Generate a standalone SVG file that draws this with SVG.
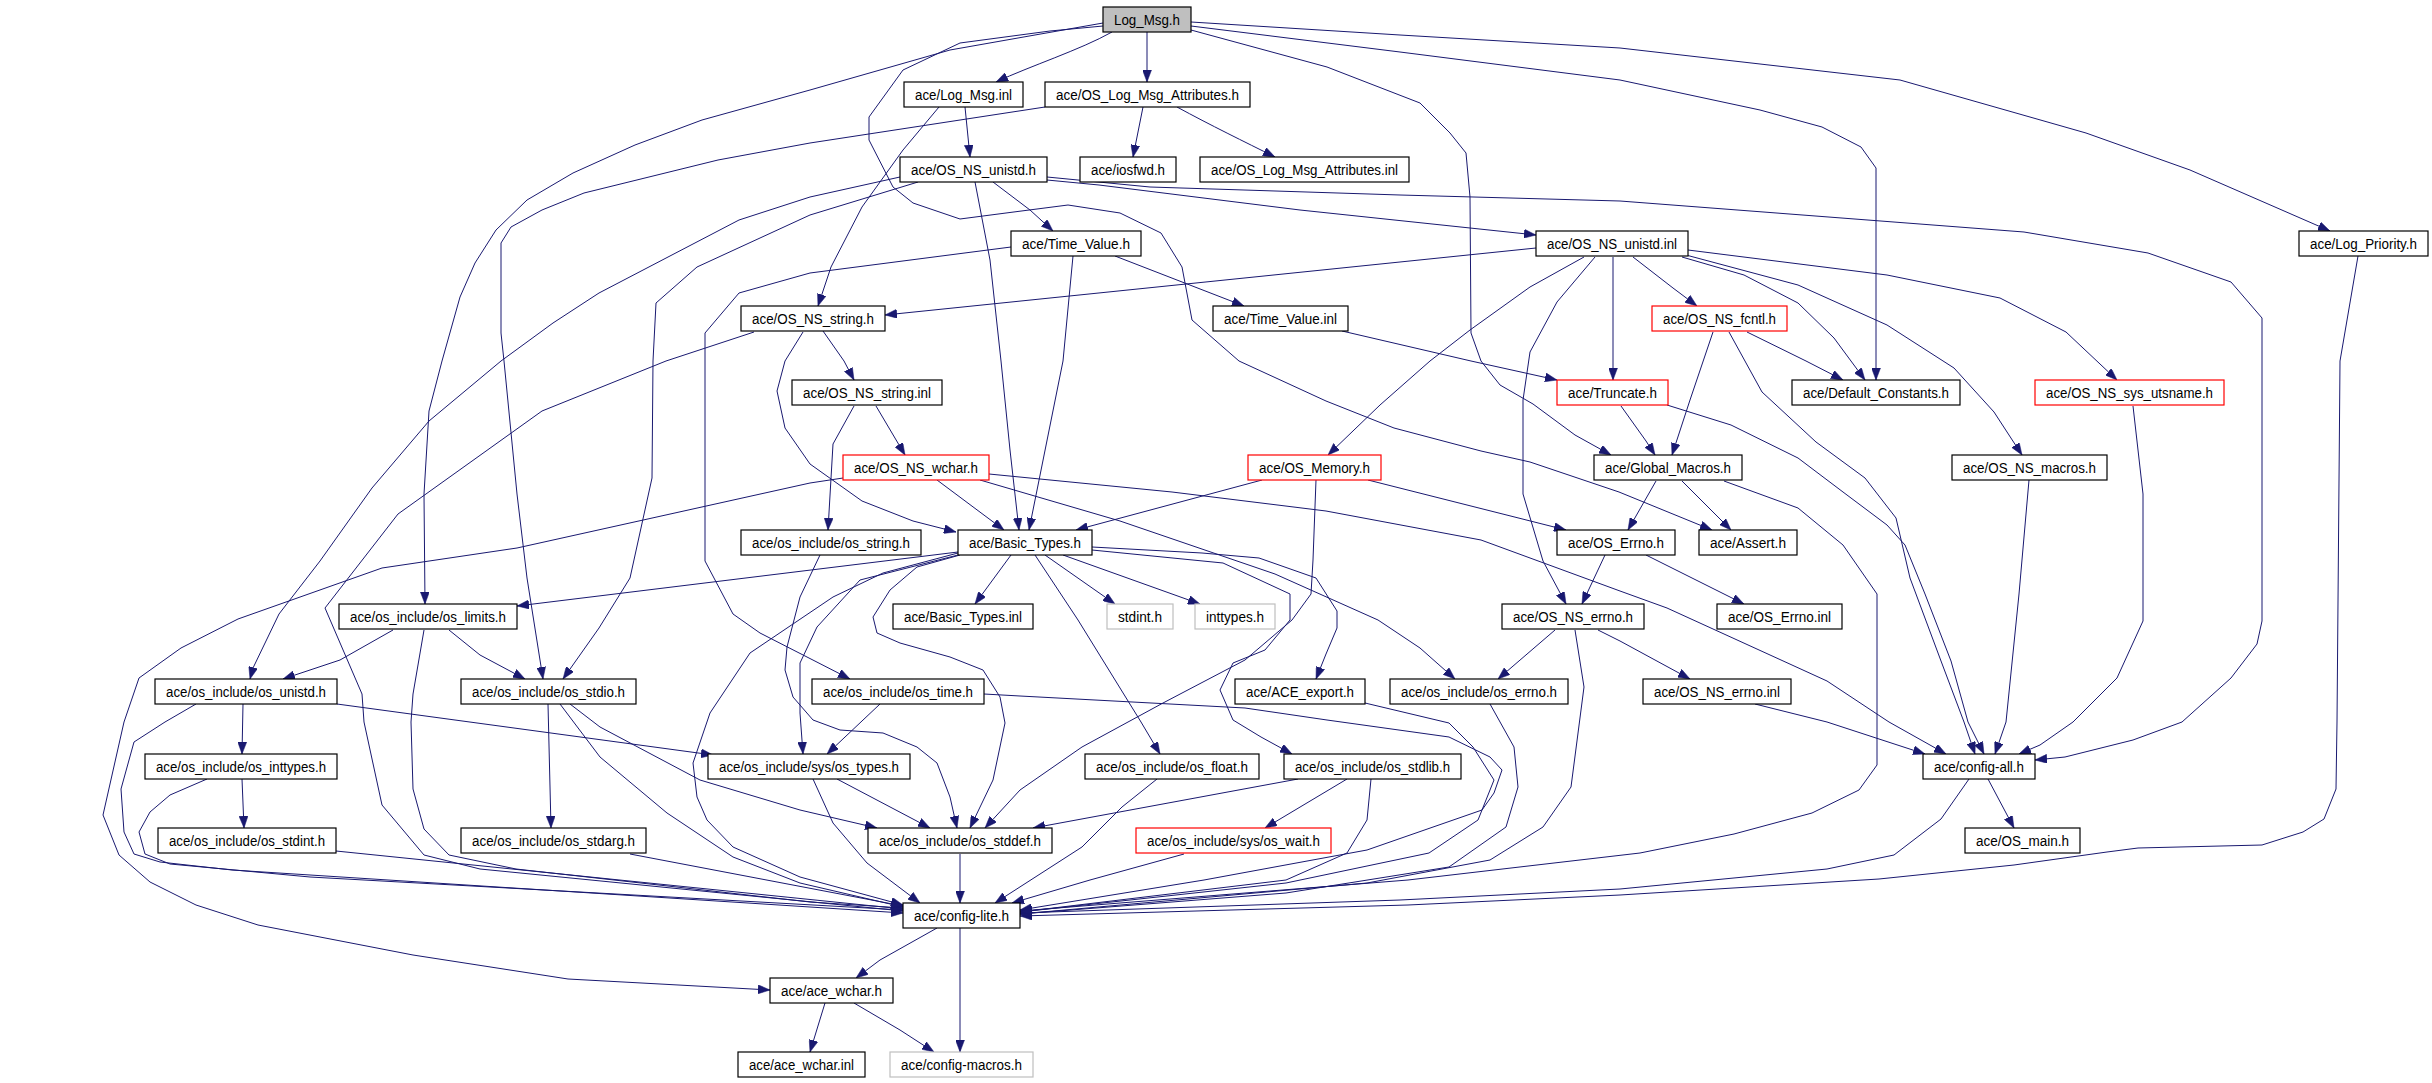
<svg xmlns="http://www.w3.org/2000/svg" width="2432" height="1083" viewBox="0 0 2432 1083">
<style>
.n rect{fill:#fff;stroke:#000;stroke-width:1.2}
.n.red rect{stroke:#ff0000}
.n.grey rect{stroke:#bfbfbf}
.n.root rect{fill:#bfbfbf}
.n text{font-family:"Liberation Sans",Arial,sans-serif;font-size:14px;fill:#000;text-anchor:middle}
#edges path{fill:none;stroke:#191970;stroke-width:1;stroke-linejoin:round;marker-end:url(#a)}
</style>
<defs>
<marker id="a" markerUnits="userSpaceOnUse" markerWidth="12" markerHeight="9" viewBox="0 0 12 9" refX="12" refY="4.5" orient="auto">
<path d="M0,0 L12,4.5 L0,9 z" fill="#191970" stroke="#191970" stroke-width="0.5"/>
</marker>
</defs>
<rect width="2432" height="1083" fill="#fff"/>
<g id="edges">
<path d="M1112,32 C1080,50 1030,66 996,82"/>
<path d="M1147,32 L1147,82"/>
<path d="M1103,23 L950,50 L810,90 L702,120 L635,145 L573,173 L527,200 L496,230 L475,263 L460,297 L442,361 L429,411 L424,494 L425,604"/>
<path d="M1103,26 L1050,31 L960,43 L903,70 L869,117 L869,140 L893,187 L913,203 L960,219 L1006,213 L1068,205 L1120,213 L1161,233 L1182,267 L1192,320 L1239,361 L1326,401 L1394,428 L1481,451 L1530,462 L1619,492 L1712,530"/>
<path d="M1191,26 L1400,52 L1620,80 L1760,110 L1822,127 L1861,147 L1876,168 L1876,380"/>
<path d="M1191,22 L1400,35 L1620,48 L1900,80 L2086,133 L2190,170 L2330,231"/>
<path d="M1191,30 L1327,67 L1420,103 L1450,133 L1466,153 L1470,197 L1471,333 L1481,361 L1500,385 L1533,404 L1575,435 L1611,455"/>
<path d="M965,107 L970,157"/>
<path d="M939,107 L903,150 L862,207 L831,267 L818,306"/>
<path d="M1143,107 L1133,157"/>
<path d="M1177,107 C1210,125 1245,142 1275,157"/>
<path d="M1045,107 L810,143 L718,160 L584,193 L542,210 L511,227 L501,243 L501,333 L504,361 L517,494 L527,578 L543,679"/>
<path d="M993,182 L1030,210 L1053,231"/>
<path d="M1047,180 L1099,185 L1300,210 L1536,235"/>
<path d="M1047,177 L1150,187 L1400,195 L1620,201 L2024,232 L2148,253 L2231,282 L2262,318 L2262,621 L2257,644 L2231,678 L2182,722 L2133,740 L2065,757 L2035,760"/>
<path d="M975,182 L990,260 L1001,361 L1010,450 L1019,530"/>
<path d="M1073,256 L1063,361 L1029,530"/>
<path d="M1115,256 L1244,306"/>
<path d="M1011,247 L810,273 L739,293 L705,333 L705,561 L733,614 L760,633 L807,657 L850,679"/>
<path d="M900,177 L810,197 L739,220 L599,293 L553,323 L501,361 L429,421 L372,488 L320,561 L279,614 L253,668 L250,679"/>
<path d="M918,182 L810,215 L697,267 L656,303 L653,361 L652,478 L630,578 L599,628 L563,679"/>
<path d="M1536,248 L885,315"/>
<path d="M1584,257 L1530,287 L1470,330 L1430,361 L1380,405 L1328,455"/>
<path d="M1595,257 L1557,302 L1530,352 L1523,400 L1523,494 L1543,561 L1566,604"/>
<path d="M1613,257 L1613,380"/>
<path d="M1633,257 L1673,288 L1697,306"/>
<path d="M1682,257 L1744,275 L1798,303 L1834,338 L1865,380"/>
<path d="M1686,255 L1798,285 L1887,325 L1954,368 L1994,412 L2022,455"/>
<path d="M1688,250 L1887,275 L2000,298 L2066,332 L2117,380"/>
<path d="M1713,332 L1690,400 L1672,455"/>
<path d="M1729,332 L1762,392 L1816,442 L1865,478 L1896,518 L1910,578 L1941,661 L1964,722 L1975,754"/>
<path d="M1747,332 L1806,361 L1843,380"/>
<path d="M1342,331 L1471,361 L1557,380"/>
<path d="M1621,406 L1646,441 L1655,455"/>
<path d="M1667,405 L1731,425 L1798,458 L1843,492 L1887,525 L1905,545 L1925,594 L1951,661 L1968,722 L1984,754"/>
<path d="M2133,406 L2143,494 L2143,621 L2117,678 L2073,722 L2040,745 L2019,754"/>
<path d="M2029,480 L2019,594 L2006,722 L1995,754"/>
<path d="M2358,256 L2340,361 L2337,722 L2336,789 L2324,819 L2303,832 L2262,845 L2138,848 L2107,852 L2014,865 L1879,879 L1620,895 L1408,905 L1020,916"/>
<path d="M1969,779 L1941,819 L1894,855 L1827,869 L1620,889 L1400,900 L1020,913"/>
<path d="M1988,779 L2014,828"/>
<path d="M1724,481 L1798,508 L1843,545 L1877,594 L1877,765 L1859,790 L1812,813 L1734,834 L1640,853 L1408,880 L1020,911"/>
<path d="M1656,481 L1628,530"/>
<path d="M1682,481 L1731,530"/>
<path d="M1368,480 L1566,530"/>
<path d="M1262,480 L1076,530"/>
<path d="M1316,480 L1313,560 L1311,594 L1292,620 L1245,660 L1163,703 L1082,747 L1020,790 L985,828"/>
<path d="M1605,555 L1582,604"/>
<path d="M1646,555 L1744,604"/>
<path d="M1555,630 L1498,679"/>
<path d="M1598,630 L1620,641 L1690,679"/>
<path d="M1575,630 L1584,687 L1571,787 L1543,827 L1490,860 L1367,883 L1020,914"/>
<path d="M1755,704 L1827,722 L1925,754"/>
<path d="M989,474 L1172,492 L1326,511 L1481,540 L1620,591 L1667,608 L1724,634 L1827,681 L1889,722 L1946,754"/>
<path d="M980,480 L1120,521 L1275,574 L1378,620 L1420,648 L1455,679"/>
<path d="M937,480 L1004,530"/>
<path d="M843,478 L810,483 L517,548 L382,568 L238,619 L181,648 L139,678 L124,722 L103,815 L119,855 L150,882 L196,905 L258,925 L413,955 L568,979 L770,990"/>
<path d="M876,406 L905,455"/>
<path d="M854,406 L833,444 L828,530"/>
<path d="M823,331 L844,361 L854,380"/>
<path d="M803,332 L785,361 L777,391 L785,428 L810,464 L862,501 L913,521 L956,532"/>
<path d="M754,332 L666,361 L542,411 L398,514 L325,608 L362,694 L364,722 L382,805 L424,855 L480,869 L903,911"/>
<path d="M820,555 L800,597 L787,647 L785,670 L793,697 L813,720 L840,730 L883,733 L917,747 L937,763 L950,797 L957,828"/>
<path d="M958,552 L517,606"/>
<path d="M958,553 L883,573 L833,597 L750,653 L710,713 L693,763 L697,797 L707,820 L733,847 L800,877 L903,905"/>
<path d="M958,555 L860,580 L817,627 L800,663 L800,713 L803,754"/>
<path d="M960,555 L917,567 L890,590 L873,617 L877,633 L900,643 L950,657 L983,670 L1000,697 L1005,723 L993,780 L970,828"/>
<path d="M1011,555 L975,604"/>
<path d="M1045,555 L1115,604"/>
<path d="M1063,555 L1200,604"/>
<path d="M1035,555 L1078,620 L1141,722 L1160,754"/>
<path d="M1092,547 L1202,553 L1259,558 L1316,578 L1337,611 L1337,628 L1326,654 L1316,679"/>
<path d="M1092,550 L1223,563 L1290,594 L1290,620 L1265,650 L1233,663 L1220,690 L1233,720 L1261,737 L1292,754"/>
<path d="M393,630 L340,660 L283,679"/>
<path d="M449,630 L480,655 L525,679"/>
<path d="M424,630 L413,694 L411,722 L413,789 L424,829 L449,855 L516,869 L810,902 L903,908"/>
<path d="M243,704 L242,754"/>
<path d="M337,704 L713,755"/>
<path d="M196,704 L165,722 L134,742 L121,789 L124,832 L134,854 L160,862 L232,870 L810,907 L903,913"/>
<path d="M548,704 L551,828"/>
<path d="M560,704 L600,757 L667,813 L733,857 L800,883 L903,907"/>
<path d="M570,704 L600,727 L700,780 L800,810 L877,828"/>
<path d="M880,704 L827,754"/>
<path d="M984,694 L1020,696 L1245,708 L1327,720 L1449,737 L1490,757 L1502,770 L1494,793 L1482,810 L1367,850 L1204,880 L1020,910"/>
<path d="M1365,703 L1449,723 L1473,747 L1494,780 L1478,820 L1429,853 L1286,883 L1020,912"/>
<path d="M1490,704 L1514,747 L1518,787 L1506,827 L1449,867 L1286,893 L1020,914"/>
<path d="M242,779 L244,828"/>
<path d="M207,779 L170,795 L150,812 L139,832 L145,854 L170,864 L310,877 L903,910"/>
<path d="M336,851 L903,909"/>
<path d="M630,854 L903,906"/>
<path d="M837,779 L930,828"/>
<path d="M813,779 L833,823 L867,863 L920,903"/>
<path d="M1157,779 L1122,807 L1082,847 L995,903"/>
<path d="M1298,779 L1033,828"/>
<path d="M1347,779 L1265,828"/>
<path d="M1371,779 L1367,820 L1347,853 L1286,880 L1020,912"/>
<path d="M1184,854 L1090,880 L1012,903"/>
<path d="M960,854 L960,903"/>
<path d="M937,928 L880,960 L856,978"/>
<path d="M960,928 L960,1052"/>
<path d="M825,1003 L810,1052"/>
<path d="M854,1003 L900,1030 L934,1052"/>
</g>
<g id="n0" class="n root"><rect x="1103" y="7" width="88" height="25"/><text x="1147" y="24.5" textLength="66" lengthAdjust="spacingAndGlyphs">Log_Msg.h</text></g>
<g id="n1" class="n"><rect x="904" y="82" width="119" height="25"/><text x="963.5" y="99.5" textLength="97" lengthAdjust="spacingAndGlyphs">ace/Log_Msg.inl</text></g>
<g id="n2" class="n"><rect x="1045" y="82" width="205" height="25"/><text x="1147.5" y="99.5" textLength="183" lengthAdjust="spacingAndGlyphs">ace/OS_Log_Msg_Attributes.h</text></g>
<g id="n3" class="n"><rect x="900" y="157" width="147" height="25"/><text x="973.5" y="174.5" textLength="125" lengthAdjust="spacingAndGlyphs">ace/OS_NS_unistd.h</text></g>
<g id="n4" class="n"><rect x="1080" y="157" width="96" height="25"/><text x="1128" y="174.5" textLength="74" lengthAdjust="spacingAndGlyphs">ace/iosfwd.h</text></g>
<g id="n5" class="n"><rect x="1200" y="157" width="209" height="25"/><text x="1304.5" y="174.5" textLength="187" lengthAdjust="spacingAndGlyphs">ace/OS_Log_Msg_Attributes.inl</text></g>
<g id="n6" class="n"><rect x="1011" y="231" width="130" height="25"/><text x="1076" y="248.5" textLength="108" lengthAdjust="spacingAndGlyphs">ace/Time_Value.h</text></g>
<g id="n7" class="n"><rect x="1536" y="231" width="152" height="25"/><text x="1612" y="248.5" textLength="130" lengthAdjust="spacingAndGlyphs">ace/OS_NS_unistd.inl</text></g>
<g id="n8" class="n"><rect x="2299" y="231" width="129" height="25"/><text x="2363.5" y="248.5" textLength="107" lengthAdjust="spacingAndGlyphs">ace/Log_Priority.h</text></g>
<g id="n9" class="n"><rect x="741" y="306" width="144" height="25"/><text x="813" y="323.5" textLength="122" lengthAdjust="spacingAndGlyphs">ace/OS_NS_string.h</text></g>
<g id="n10" class="n"><rect x="1213" y="306" width="135" height="25"/><text x="1280.5" y="323.5" textLength="113" lengthAdjust="spacingAndGlyphs">ace/Time_Value.inl</text></g>
<g id="n11" class="n red"><rect x="1652" y="306" width="135" height="25"/><text x="1719.5" y="323.5" textLength="113" lengthAdjust="spacingAndGlyphs">ace/OS_NS_fcntl.h</text></g>
<g id="n12" class="n"><rect x="792" y="380" width="150" height="25"/><text x="867" y="397.5" textLength="128" lengthAdjust="spacingAndGlyphs">ace/OS_NS_string.inl</text></g>
<g id="n13" class="n red"><rect x="1557" y="380" width="111" height="25"/><text x="1612.5" y="397.5" textLength="89" lengthAdjust="spacingAndGlyphs">ace/Truncate.h</text></g>
<g id="n14" class="n"><rect x="1792" y="380" width="168" height="25"/><text x="1876" y="397.5" textLength="146" lengthAdjust="spacingAndGlyphs">ace/Default_Constants.h</text></g>
<g id="n15" class="n red"><rect x="2035" y="380" width="189" height="25"/><text x="2129.5" y="397.5" textLength="167" lengthAdjust="spacingAndGlyphs">ace/OS_NS_sys_utsname.h</text></g>
<g id="n16" class="n red"><rect x="843" y="455" width="146" height="25"/><text x="916" y="472.5" textLength="124" lengthAdjust="spacingAndGlyphs">ace/OS_NS_wchar.h</text></g>
<g id="n17" class="n red"><rect x="1248" y="455" width="133" height="25"/><text x="1314.5" y="472.5" textLength="111" lengthAdjust="spacingAndGlyphs">ace/OS_Memory.h</text></g>
<g id="n18" class="n"><rect x="1594" y="455" width="148" height="25"/><text x="1668" y="472.5" textLength="126" lengthAdjust="spacingAndGlyphs">ace/Global_Macros.h</text></g>
<g id="n19" class="n"><rect x="1952" y="455" width="155" height="25"/><text x="2029.5" y="472.5" textLength="133" lengthAdjust="spacingAndGlyphs">ace/OS_NS_macros.h</text></g>
<g id="n20" class="n"><rect x="741" y="530" width="180" height="25"/><text x="831" y="547.5" textLength="158" lengthAdjust="spacingAndGlyphs">ace/os_include/os_string.h</text></g>
<g id="n21" class="n"><rect x="958" y="530" width="134" height="25"/><text x="1025" y="547.5" textLength="112" lengthAdjust="spacingAndGlyphs">ace/Basic_Types.h</text></g>
<g id="n22" class="n"><rect x="1557" y="530" width="118" height="25"/><text x="1616" y="547.5" textLength="96" lengthAdjust="spacingAndGlyphs">ace/OS_Errno.h</text></g>
<g id="n23" class="n"><rect x="1699" y="530" width="98" height="25"/><text x="1748" y="547.5" textLength="76" lengthAdjust="spacingAndGlyphs">ace/Assert.h</text></g>
<g id="n24" class="n"><rect x="339" y="604" width="178" height="25"/><text x="428" y="621.5" textLength="156" lengthAdjust="spacingAndGlyphs">ace/os_include/os_limits.h</text></g>
<g id="n25" class="n"><rect x="893" y="604" width="140" height="25"/><text x="963" y="621.5" textLength="118" lengthAdjust="spacingAndGlyphs">ace/Basic_Types.inl</text></g>
<g id="n26" class="n grey"><rect x="1107" y="604" width="66" height="25"/><text x="1140" y="621.5" textLength="44" lengthAdjust="spacingAndGlyphs">stdint.h</text></g>
<g id="n27" class="n grey"><rect x="1195" y="604" width="80" height="25"/><text x="1235" y="621.5" textLength="58" lengthAdjust="spacingAndGlyphs">inttypes.h</text></g>
<g id="n28" class="n"><rect x="1502" y="604" width="142" height="25"/><text x="1573" y="621.5" textLength="120" lengthAdjust="spacingAndGlyphs">ace/OS_NS_errno.h</text></g>
<g id="n29" class="n"><rect x="1717" y="604" width="125" height="25"/><text x="1779.5" y="621.5" textLength="103" lengthAdjust="spacingAndGlyphs">ace/OS_Errno.inl</text></g>
<g id="n30" class="n"><rect x="155" y="679" width="182" height="25"/><text x="246" y="696.5" textLength="160" lengthAdjust="spacingAndGlyphs">ace/os_include/os_unistd.h</text></g>
<g id="n31" class="n"><rect x="461" y="679" width="175" height="25"/><text x="548.5" y="696.5" textLength="153" lengthAdjust="spacingAndGlyphs">ace/os_include/os_stdio.h</text></g>
<g id="n32" class="n"><rect x="812" y="679" width="172" height="25"/><text x="898" y="696.5" textLength="150" lengthAdjust="spacingAndGlyphs">ace/os_include/os_time.h</text></g>
<g id="n33" class="n"><rect x="1235" y="679" width="130" height="25"/><text x="1300" y="696.5" textLength="108" lengthAdjust="spacingAndGlyphs">ace/ACE_export.h</text></g>
<g id="n34" class="n"><rect x="1390" y="679" width="178" height="25"/><text x="1479" y="696.5" textLength="156" lengthAdjust="spacingAndGlyphs">ace/os_include/os_errno.h</text></g>
<g id="n35" class="n"><rect x="1643" y="679" width="148" height="25"/><text x="1717" y="696.5" textLength="126" lengthAdjust="spacingAndGlyphs">ace/OS_NS_errno.inl</text></g>
<g id="n36" class="n"><rect x="145" y="754" width="192" height="25"/><text x="241" y="771.5" textLength="170" lengthAdjust="spacingAndGlyphs">ace/os_include/os_inttypes.h</text></g>
<g id="n37" class="n"><rect x="708" y="754" width="202" height="25"/><text x="809" y="771.5" textLength="180" lengthAdjust="spacingAndGlyphs">ace/os_include/sys/os_types.h</text></g>
<g id="n38" class="n"><rect x="1085" y="754" width="174" height="25"/><text x="1172" y="771.5" textLength="152" lengthAdjust="spacingAndGlyphs">ace/os_include/os_float.h</text></g>
<g id="n39" class="n"><rect x="1284" y="754" width="177" height="25"/><text x="1372.5" y="771.5" textLength="155" lengthAdjust="spacingAndGlyphs">ace/os_include/os_stdlib.h</text></g>
<g id="n40" class="n"><rect x="1923" y="754" width="112" height="25"/><text x="1979" y="771.5" textLength="90" lengthAdjust="spacingAndGlyphs">ace/config-all.h</text></g>
<g id="n41" class="n"><rect x="158" y="828" width="178" height="25"/><text x="247" y="845.5" textLength="156" lengthAdjust="spacingAndGlyphs">ace/os_include/os_stdint.h</text></g>
<g id="n42" class="n"><rect x="461" y="828" width="185" height="25"/><text x="553.5" y="845.5" textLength="163" lengthAdjust="spacingAndGlyphs">ace/os_include/os_stdarg.h</text></g>
<g id="n43" class="n"><rect x="868" y="828" width="184" height="25"/><text x="960" y="845.5" textLength="162" lengthAdjust="spacingAndGlyphs">ace/os_include/os_stddef.h</text></g>
<g id="n44" class="n red"><rect x="1136" y="828" width="195" height="25"/><text x="1233.5" y="845.5" textLength="173" lengthAdjust="spacingAndGlyphs">ace/os_include/sys/os_wait.h</text></g>
<g id="n45" class="n"><rect x="1965" y="828" width="115" height="25"/><text x="2022.5" y="845.5" textLength="93" lengthAdjust="spacingAndGlyphs">ace/OS_main.h</text></g>
<g id="n46" class="n"><rect x="903" y="903" width="117" height="25"/><text x="961.5" y="920.5" textLength="95" lengthAdjust="spacingAndGlyphs">ace/config-lite.h</text></g>
<g id="n47" class="n"><rect x="770" y="978" width="123" height="25"/><text x="831.5" y="995.5" textLength="101" lengthAdjust="spacingAndGlyphs">ace/ace_wchar.h</text></g>
<g id="n48" class="n"><rect x="738" y="1052" width="127" height="25"/><text x="801.5" y="1069.5" textLength="105" lengthAdjust="spacingAndGlyphs">ace/ace_wchar.inl</text></g>
<g id="n49" class="n grey"><rect x="890" y="1052" width="143" height="25"/><text x="961.5" y="1069.5" textLength="121" lengthAdjust="spacingAndGlyphs">ace/config-macros.h</text></g>
</svg>
